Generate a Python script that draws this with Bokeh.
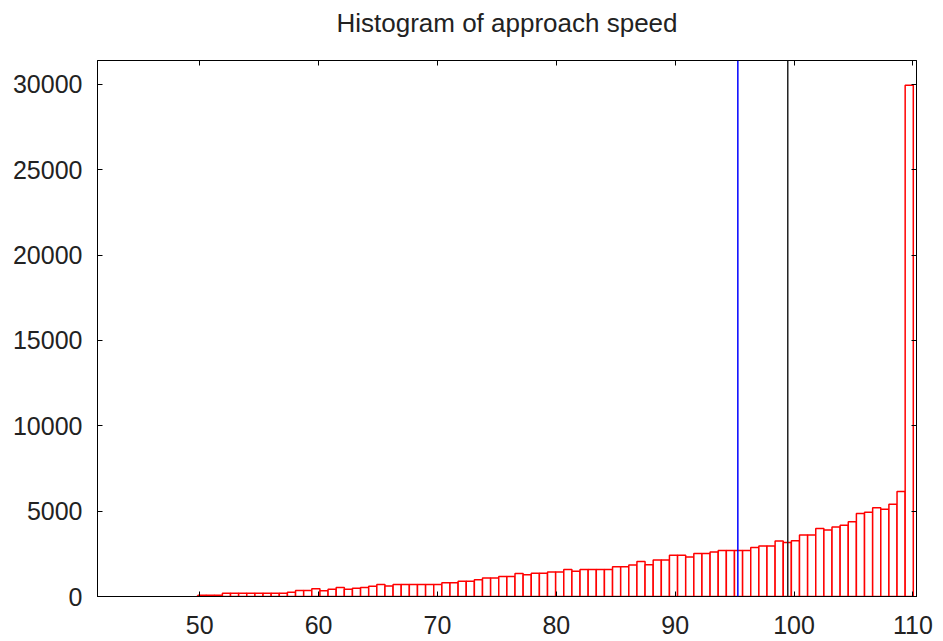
from bokeh.plotting import figure
from bokeh.models import (Span, LinearAxis, FixedTicker, Range1d, ColumnDataSource,
                          CustomLabelingPolicy)
from bokeh.embed import file_html
from bokeh.resources import INLINE

title = "Histogram of approach speed"

# histogram: 100 equal bins, first bin starts at bin_start
bin_start = 41.65
bin_width = 0.6838
counts = [
    0, 0, 0, 0, 0, 0, 0, 0, 0, 0,
    0, 0, 70, 80, 80, 195, 195, 195, 195, 195,
    195, 195, 195, 250, 350, 350, 460, 330, 430, 520,
    420, 490, 530, 600, 710, 620, 700, 700, 700, 700,
    700, 700, 800, 800, 900, 900, 985, 1090, 1090, 1170,
    1170, 1345, 1270, 1355, 1355, 1435, 1435, 1580, 1480, 1580,
    1580, 1580, 1580, 1750, 1750, 1845, 2050, 1865, 2140, 2140,
    2410, 2410, 2320, 2520, 2520, 2610, 2700, 2700, 2700, 2700,
    2870, 2960, 2960, 3250, 3165, 3270, 3610, 3610, 3985, 3895,
    4070, 4180, 4385, 4855, 4930, 5205, 5110, 5400, 6150, 29950,
]

blue_line_x = 95.27
black_line_x = 99.47

x_ticks = [50, 60, 70, 80, 90, 100, 110]
y_ticks = [0, 5000, 10000, 15000, 20000, 25000, 30000]

x_min, x_max = 41.4, 110.3
y_min, y_max = 0, 31400

left, right, top, bottom = [], [], [], []
for k, c in enumerate(counts):
    if c > 0:
        left.append(bin_start + k * bin_width)
        right.append(bin_start + (k + 1) * bin_width)
        top.append(c)
        bottom.append(0)
src = ColumnDataSource(dict(left=left, right=right, top=top, bottom=bottom))

W, H = 943, 641
p = figure(width=W, height=H, output_backend="svg", toolbar_location=None,
           x_range=Range1d(x_min, x_max), y_range=Range1d(y_min, y_max),
           x_axis_location=None, y_axis_location=None,
           min_border_left=97, min_border_right=27, min_border_top=60, min_border_bottom=45)
p.background_fill_color = "white"
p.border_fill_color = "white"
p.outline_line_color = "black"
p.outline_line_width = 1
p.xgrid.visible = False
p.ygrid.visible = False

p.quad(left="left", right="right", top="top", bottom="bottom", source=src,
       fill_color="white", line_color="#ff0000", line_width=1.5)

p.add_layout(Span(location=blue_line_x, dimension="height", line_color="#0000ff", line_width=1.5))
p.add_layout(Span(location=black_line_x, dimension="height", line_color="#222222", line_width=1.5))

no_labels = CustomLabelingPolicy(code="return new Set()")

def style(ax, show_labels):
    ax.axis_line_color = "black"
    ax.major_tick_in = 5
    ax.major_tick_out = 0
    ax.minor_tick_line_color = None
    ax.major_tick_line_color = "black"
    ax.major_label_text_font = "Liberation Sans"
    ax.major_label_text_color = "#222222"
    if show_labels:
        ax.major_label_text_font_size = "25px"
    else:
        ax.major_label_text_font_size = "0px"
        ax.major_label_standoff = 0
        ax.major_label_policy = no_labels

xb = LinearAxis(ticker=FixedTicker(ticks=x_ticks))
style(xb, True)
xb.major_label_standoff = 19
p.add_layout(xb, "below")

# top mirror axis; its axis label carries the chart title
xt = LinearAxis(ticker=FixedTicker(ticks=x_ticks))
style(xt, False)
xt.axis_label = title
xt.axis_label_text_font = "Liberation Sans"
xt.axis_label_text_font_size = "26px"
xt.axis_label_text_font_style = "normal"
xt.axis_label_text_color = "#222222"
xt.axis_label_standoff = 23
p.add_layout(xt, "above")

yl = LinearAxis(ticker=FixedTicker(ticks=y_ticks))
style(yl, True)
yl.major_label_standoff = 15
p.add_layout(yl, "left")
yr = LinearAxis(ticker=FixedTicker(ticks=y_ticks))
style(yr, False)
p.add_layout(yr, "right")

open("out.html", "w").write(file_html(p, INLINE))
